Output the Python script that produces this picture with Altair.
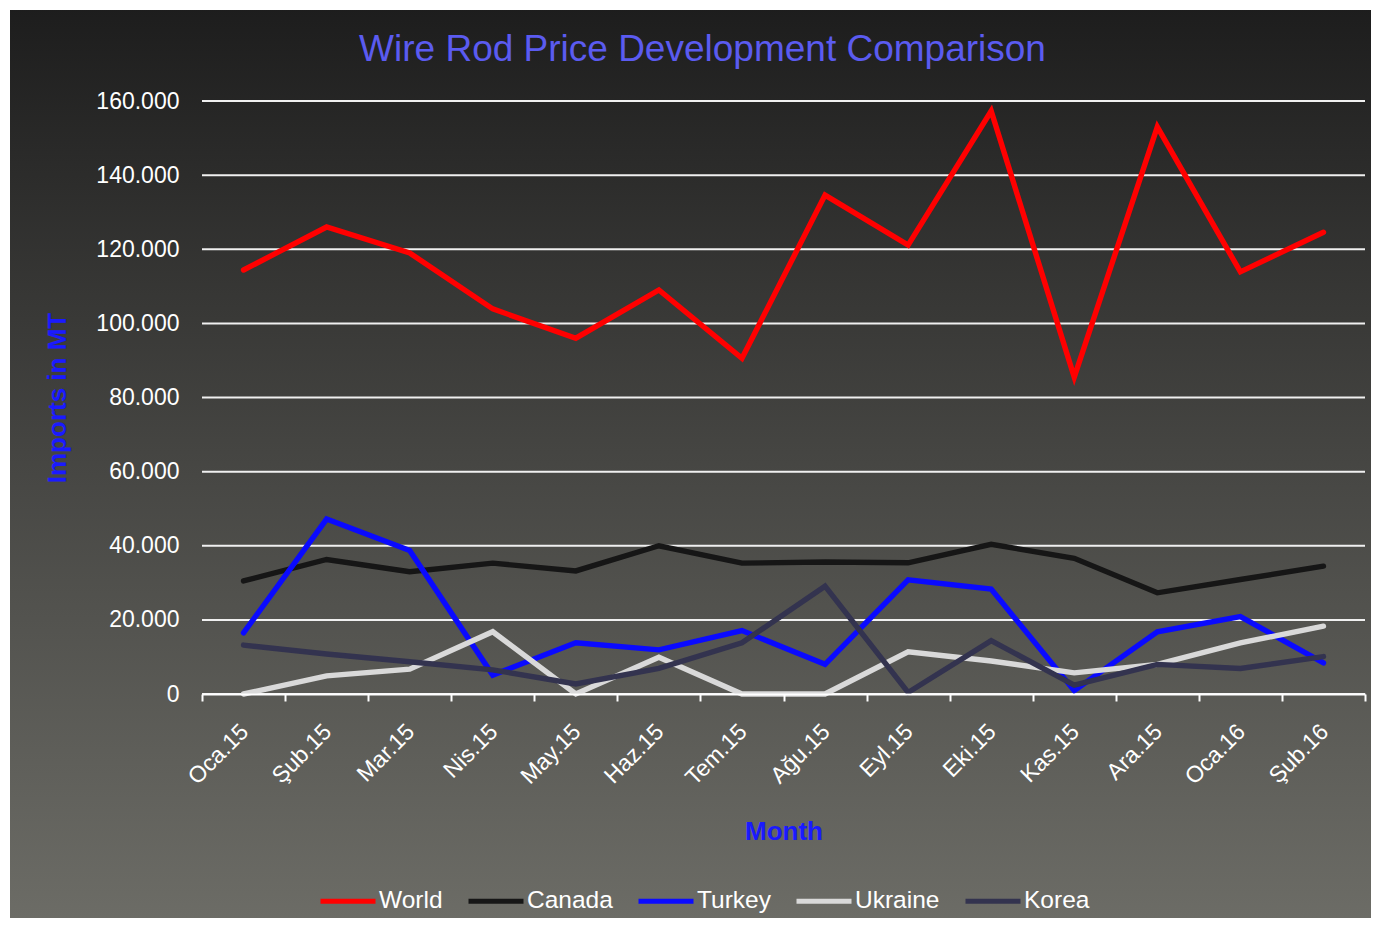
import altair as alt
import pandas as pd

months = ["Oca.15", "Şub.15", "Mar.15", "Nis.15", "May.15", "Haz.15", "Tem.15",
          "Ağu.15", "Eyl.15", "Eki.15", "Kas.15", "Ara.15", "Oca.16", "Şub.16"]
series = ["World", "Canada", "Turkey", "Ukraine", "Korea"]
colors = ["#ff0000", "#161616", "#0a0aff", "#d9d9d9", "#33334f"]

world = [114400, 126000, 119000, 103900, 96000, 109000, 90600,
         134600, 121100, 157300, 85500, 153000, 113900, 124600]
canada = [30500, 36300, 33000, 35300, 33200, 40000, 35300,
          35600, 35400, 40400, 36600, 27300, 30900, 34500]
turkey = [16500, 47200, 38700, 5100, 13800, 11900, 17100,
          8000, 30800, 28300, 900, 16800, 20900, 8400]
ukraine = [0, 4900, 6700, 16800, 0, 9900, 0,
           0, 11400, 8900, 5700, 8000, 13800, 18300]
korea = [13200, 10800, 8700, 6500, 2700, 6900, 13800,
         29100, 400, 14400, 2400, 8000, 6900, 10100]
y_ticks = [0, 20000, 40000, 60000, 80000, 100000, 120000, 140000, 160000]

values = [world, canada, turkey, ukraine, korea]
rows = []
for s, vals in zip(series, values):
    for m, v in zip(months, vals):
        rows.append({"month": m, "series": s, "value": v})
df = pd.DataFrame(rows)

W, H = 1163, 593
PL, PT, PR, PB = 194, 93, 6, 224
FONT = "Liberation Sans"

yscale = alt.Scale(domain=[0, 160000], nice=False, zero=True)
xscale = alt.Scale(type="band", domain=months, paddingInner=0, paddingOuter=0)

yaxis = alt.Axis(values=y_ticks,
                 labelExpr="replace(format(datum.value, ','), ',', '.')",
                 title="Imports in MT", titleColor="#1a1aff", titleFontSize=26,
                 titleFontWeight="bold", titleFont=FONT,
                 titleX=-145, titleY=H / 2, titleAngle=270, titleAlign="center",
                 titleBaseline="middle",
                 labelFontSize=23, labelColor="white", labelFont=FONT,
                 labelPadding=23, grid=False, domain=False, ticks=False,
                 zindex=1)

gradient = {
    "gradient": "linear", "x1": 0, "y1": 0, "x2": 0, "y2": 1,
    "stops": [
        {"offset": 0, "color": "#1d1d1d"},
        {"offset": 0.5, "color": "#464643"},
        {"offset": 1, "color": "#6c6c66"},
    ],
}

bg = alt.Chart(pd.DataFrame({"k": [0]})).mark_rect(color=gradient).encode(
    x=alt.value(-PL), x2=alt.value(W + PR),
    y=alt.value(-PT), y2=alt.value(H + PB),
)

frame = alt.Chart(pd.DataFrame({"k": [0]})).mark_rect(
    filled=False, stroke="white", strokeWidth=2
).encode(
    x=alt.value(-PL + 1), x2=alt.value(W + 100),
    y=alt.value(-PT + 1), y2=alt.value(H + 400),
)

grid = alt.Chart(pd.DataFrame({"value": y_ticks})).mark_rule(
    color="#f0f0f0", strokeWidth=2
).encode(
    y=alt.Y("value:Q", scale=yscale, axis=yaxis),
    x=alt.value(0), x2=alt.value(W),
)

lines = alt.Chart(df).mark_line(strokeWidth=5.4, strokeCap="round").encode(
    x=alt.X("month:N", scale=xscale, sort=months,
            axis=alt.Axis(title="Month", titleColor="#1a1aff", titleFontSize=26,
                          titleFontWeight="bold", titleFont=FONT,
                          titleX=W / 2, titleY=137, titleBaseline="middle",
                          labelAngle=-45, labelAlign="right", labelBaseline="top",
                          labelPadding=19, labelOffset=-7, labelFontSize=23,
                          labelColor="white",
                          labelFont=FONT, tickBand="extent", tickColor="white",
                          tickSize=7, tickWidth=2, domainColor="white", domainWidth=2,
                          grid=False, zindex=1)),
    y=alt.Y("value:Q", scale=yscale, axis=yaxis),
    color=alt.Color("series:N", scale=alt.Scale(domain=series, range=colors),
                    legend=alt.Legend(title=None, orient="none", legendX=116, legendY=770,
                                      direction="horizontal", symbolType="stroke",
                                      symbolStrokeWidth=5, symbolSize=3025,
                                      labelFontSize=24.5, labelColor="white", labelFont=FONT,
                                      labelOffset=1, columnPadding=15, padding=0,
                                      zindex=1)),
)

chart = alt.layer(bg, frame, grid, lines).properties(
    width=W, height=H,
    padding={"left": PL, "top": PT, "right": PR, "bottom": PB},
    autosize=alt.AutoSizeParams(type="none"),
    title=alt.TitleParams("Wire Rod Price Development Comparison", color="#5b5bf0",
                          fontSize=37, font=FONT, fontWeight="normal", anchor="middle",
                          frame="group", dx=-81, offset=0, dy=90, baseline="alphabetic",
                          zindex=1),
).configure(background="#6c6c66", font=FONT).configure_view(strokeWidth=0)

chart.save("out.html", embed_options={"renderer": "svg", "actions": False})
